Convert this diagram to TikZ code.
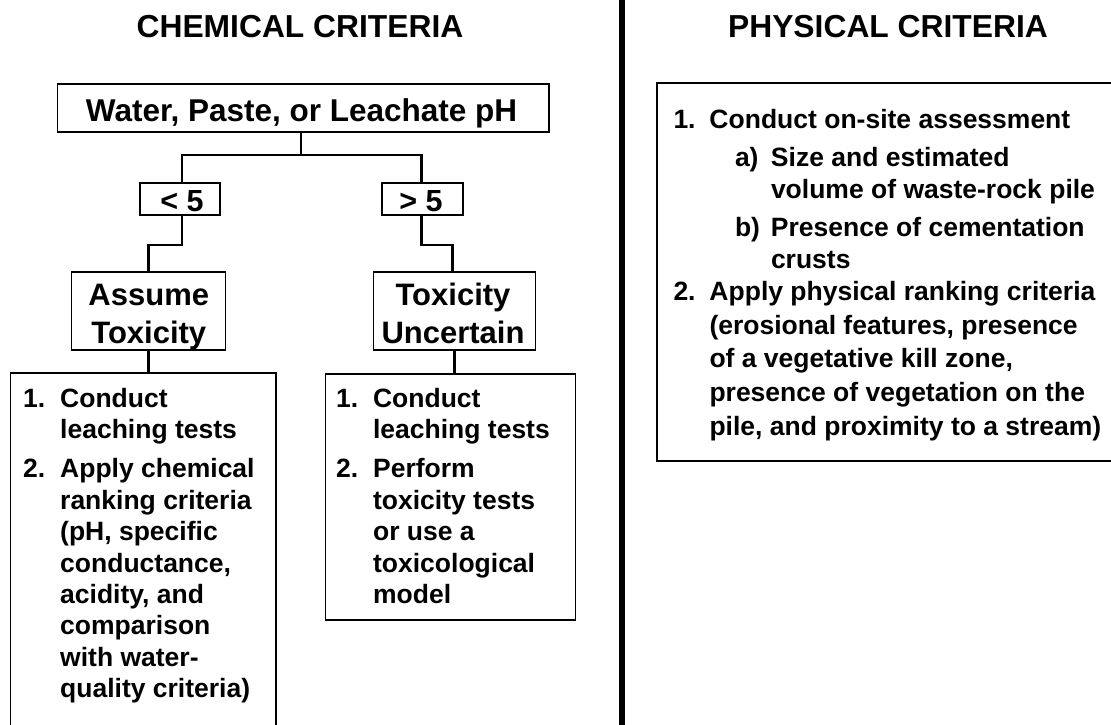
\documentclass[tikz,border=0pt]{standalone}
\usepackage{fontspec}
\setmainfont{Liberation Sans}
\begin{document}
\begin{tikzpicture}[x=1pt,y=-1pt,
  box/.style={draw=black, line width=1.2pt, inner sep=0pt, fill=none},
  conn/.style={draw=black, line width=2.5pt},
  txt/.style={inner sep=0pt, outer sep=0pt, font=\bfseries},
]
\useasboundingbox (0,0) rectangle (1111,724);
\clip (0,0) rectangle (1111,724);
\fill[white] (0,0) rectangle (1111,724);

% titles
\node[txt, anchor=base, font=\bfseries\fontsize{31.8}{37}\selectfont] (chemtitle) at (300,37.3) {CHEMICAL CRITERIA};
\node[txt, anchor=base, font=\bfseries\fontsize{31.8}{37}\selectfont] (phystitle) at (888,37.3) {PHYSICAL CRITERIA};

% divider
\coordinate (dtop) at (622,-5);
\coordinate (dbot) at (622,730);
\draw[line width=5.5pt] (dtop) -- (dbot);

% boxes
\node[box, minimum width=491.5pt, minimum height=48pt] (top) at (303.3,108) {};
\node[box, minimum width=80pt, minimum height=32pt] (lt) at (180,199) {};
\node[box, minimum width=81pt, minimum height=32pt] (gt) at (422.5,199) {};
\node[box, minimum width=154.5pt, minimum height=78pt] (assume) at (148.5,311) {};
\node[box, minimum width=162pt, minimum height=78pt] (unc) at (454.5,311) {};
\node[box, minimum width=265.6pt, minimum height=387pt] (llist) at (143.2,566.5) {};
\node[box, minimum width=250pt, minimum height=246pt] (rlist) at (450.5,497) {};
\node[box, minimum width=473pt, minimum height=378pt] (phys) at (893.5,272) {};

% box texts
\node[txt, anchor=base, font=\bfseries\fontsize{31.5}{37}\selectfont] (toptxt) at (301.6,121.7) {Water, Paste, or Leachate pH};
\node[txt, anchor=base, font=\bfseries\fontsize{30.5}{37}\selectfont] (lttxt) at (182,211.7) {< 5};
\node[txt, anchor=base, font=\bfseries\fontsize{30.5}{37}\selectfont] (gttxt) at (421,211.7) {> 5};
\node[txt, anchor=base, font=\bfseries\fontsize{31}{38}\selectfont] (assumetxt) at (148.8,305) {\begin{tabular}[t]{@{}c@{}}Assume\\Toxicity\end{tabular}};
\node[txt, anchor=base, font=\bfseries\fontsize{31}{38}\selectfont] (unctxt) at (453,305) {\begin{tabular}[t]{@{}c@{}}Toxicity\\Uncertain\end{tabular}};

\node[txt, anchor=base west, font=\bfseries\fontsize{26.5}{31.4}\selectfont] (llisttxt) at (23.2,407) {\begin{tabular}[t]{@{}l@{}}
\makebox[37pt][l]{1.}Conduct\\
\hspace*{37pt}leaching tests\\[8pt]
\makebox[37pt][l]{2.}Apply chemical\\
\hspace*{37pt}ranking criteria\\
\hspace*{37pt}(pH, specific\\
\hspace*{37pt}conductance,\\
\hspace*{37pt}acidity, and\\
\hspace*{37pt}comparison\\
\hspace*{37pt}with water-\\
\hspace*{37pt}quality criteria)
\end{tabular}};

\node[txt, anchor=base west, font=\bfseries\fontsize{26.5}{31.4}\selectfont] (rlisttxt) at (336.1,407) {\begin{tabular}[t]{@{}l@{}}
\makebox[37pt][l]{1.}Conduct\\
\hspace*{37pt}leaching tests\\[8pt]
\makebox[37pt][l]{2.}Perform\\
\hspace*{37pt}toxicity tests\\
\hspace*{37pt}or use a\\
\hspace*{37pt}toxicological\\
\hspace*{37pt}model
\end{tabular}};

\node[txt, anchor=base west, font=\bfseries\fontsize{26.5}{32}\selectfont] (physlist) at (673.5,128) {\begin{tabular}[t]{@{}l@{}}
\makebox[36pt][l]{1.}Conduct on-site assessment\\[6pt]
\hspace*{61.5pt}\makebox[36pt][l]{a)}Size and estimated\\
\hspace*{97.5pt}volume of waste-rock pile\\[6pt]
\hspace*{61.5pt}\makebox[36pt][l]{b)}Presence of cementation\\
\hspace*{97.5pt}crusts\\
\makebox[36pt][l]{2.}Apply physical ranking criteria\\[2pt]
\hspace*{36pt}(erosional features, presence\\[1pt]
\hspace*{36pt}of a vegetative kill zone,\\[2pt]
\hspace*{36pt}presence of vegetation on the\\[2pt]
\hspace*{36pt}pile, and proximity to a stream)
\end{tabular}};

% connectors
\coordinate (j) at (301,155);
\coordinate (jl) at (182,155);
\coordinate (jr) at (421.7,155);
\coordinate (el) at (182,245);
\coordinate (er) at (421.7,245);
\coordinate (erd) at (452.7,272);
\draw[conn] (top.south -| j) -- (j);
\draw[conn] (lt.north -| jl) -- (jl) -- (jr) -- (gt.north -| jr);
\draw[conn] (lt.south -| el) -- (el) -| (assume.north);
\draw[conn] (gt.south -| er) -- (er) -| (erd);
\draw[conn] (assume.south) -- (assume.south |- llist.north);
\draw[conn] (unc.south) -- (unc.south |- rlist.north);
\end{tikzpicture}
\end{document}
